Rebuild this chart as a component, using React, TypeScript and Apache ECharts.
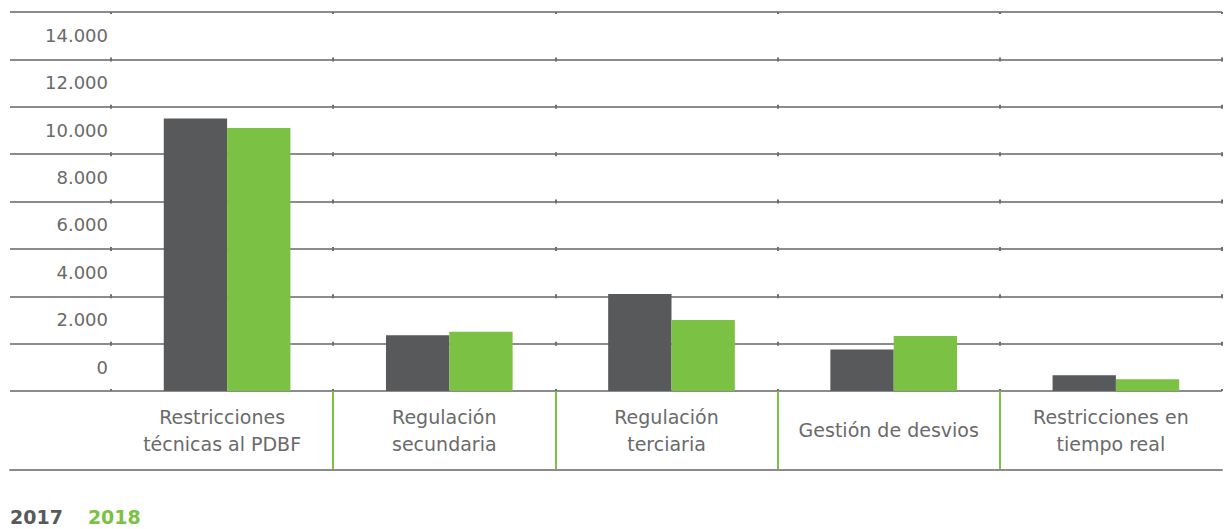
import React, { useEffect, useRef } from "react";
import * as echarts from "echarts";

// Costs by service, 2017 vs 2018
const categories = [
  "Restricciones\ntécnicas al PDBF",
  "Regulación\nsecundaria",
  "Regulación\nterciaria",
  "Gestión de desvios",
  "Restricciones en\ntiempo real",
];
const values2017 = [11500, 2350, 4100, 1750, 660];
const values2018 = [11100, 2500, 3000, 2320, 500];
const seriesNames = ["2017", "2018"];

const Y_MIN = 0;
const Y_MAX = 16000;
const Y_STEP = 2000;

const DARK = "#58595b";
const GREEN = "#7bc143";
const GRID_LINE = "#8c8c8c";
const TEXT = "#6a6a6a";
const FONT = "'DejaVu Sans', sans-serif";

const fmt = (v: number) => String(v).replace(/\B(?=(\d{3})+(?!\d))/g, ".");

export default function App() {
  const ref = useRef<HTMLDivElement>(null);

  useEffect(() => {
    document.body.style.margin = "0";
    if (!ref.current) return;
    const chart = echarts.init(ref.current, undefined, { renderer: "svg" });

    const gridTop = 12;
    const plotHeight = 379;
    const splitStyle = { color: GRID_LINE, width: 2 };
    const valueAxisBase = { type: "value", min: Y_MIN, max: Y_MAX, interval: Y_STEP };

    chart.setOption({
      animation: false,
      grid: [
        // main plot: grid lines, category labels
        { left: 111, right: 5, top: gridTop, height: plotHeight },
        // label strip on the left, carrying the grid lines through
        { left: 10, width: 101, top: gridTop, height: plotHeight },
        // category band below the baseline
        { left: 111, right: 5, top: gridTop + plotHeight, height: 79 },
        // left part of the category band
        { left: 10, width: 101, top: gridTop + plotHeight, height: 79 },
        // bars, set slightly right of the band centres
        { left: 116, right: 0, top: gridTop, height: plotHeight },
      ],
      legend: {
        left: 0,
        top: 502,
        icon: "none",
        itemWidth: 0,
        itemHeight: 0,
        itemGap: 20,
        selectedMode: false,
        textStyle: { fontFamily: FONT, fontSize: 19, fontWeight: "bold" },
        data: [
          { name: seriesNames[0], textStyle: { color: DARK } },
          { name: seriesNames[1], textStyle: { color: GREEN } },
        ],
      },
      xAxis: [
        {
          type: "category",
          gridIndex: 0,
          data: categories,
          axisLine: { show: false },
          axisTick: { show: false },
          axisLabel: {
            interval: 0,
            margin: 39,
            verticalAlign: "middle",
            color: TEXT,
            fontFamily: FONT,
            fontSize: 19,
            lineHeight: 27,
          },
          splitLine: {
            show: true,
            lineStyle: { color: "#6f6f6f", width: 2, type: [4, 43.375], dashOffset: 2 },
          },
        },
        { type: "value", gridIndex: 1, min: 0, max: 1, show: false },
        {
          type: "category",
          gridIndex: 2,
          data: categories,
          axisLine: { show: true, lineStyle: splitStyle },
          axisTick: { show: false },
          axisLabel: { show: false },
          splitLine: {
            show: true,
            showMinLine: false,
            showMaxLine: false,
            lineStyle: { color: GREEN, width: 2 },
          },
        },
        {
          type: "value",
          gridIndex: 3,
          min: 0,
          max: 1,
          axisLine: { show: true, lineStyle: splitStyle },
          axisTick: { show: false },
          axisLabel: { show: false },
          splitLine: { show: false },
        },
        { type: "category", gridIndex: 4, data: categories, show: false },
      ],
      yAxis: [
        {
          ...valueAxisBase,
          gridIndex: 0,
          axisLine: { show: false },
          axisTick: { show: false },
          axisLabel: { show: false },
          splitLine: { show: true, lineStyle: splitStyle },
        },
        {
          ...valueAxisBase,
          gridIndex: 1,
          position: "right",
          axisLine: { show: false },
          axisTick: { show: false },
          splitLine: { show: true, lineStyle: splitStyle },
          axisLabel: {
            inside: true,
            margin: 3,
            showMaxLabel: false,
            color: TEXT,
            fontFamily: FONT,
            fontSize: 18,
            lineHeight: 16,
            verticalAlign: "bottom",
            padding: [0, 0, 16, 0],
            formatter: (v: number) => (v >= Y_MAX ? "" : fmt(v)),
          },
        },
        { type: "value", gridIndex: 2, show: false },
        { type: "value", gridIndex: 3, show: false },
        { ...valueAxisBase, gridIndex: 4, show: false },
      ],
      series: [
        {
          name: seriesNames[0],
          type: "bar",
          xAxisIndex: 4,
          yAxisIndex: 4,
          data: values2017,
          itemStyle: { color: DARK },
          barGap: "0%",
          barCategoryGap: "43%",
        },
        {
          name: seriesNames[1],
          type: "bar",
          xAxisIndex: 4,
          yAxisIndex: 4,
          data: values2018,
          itemStyle: { color: GREEN },
          barGap: "0%",
          barCategoryGap: "43%",
        },
      ],
    });

    return () => chart.dispose();
  }, []);

  return <div ref={ref} style={{ width: 1227, height: 529 }} />;
}
